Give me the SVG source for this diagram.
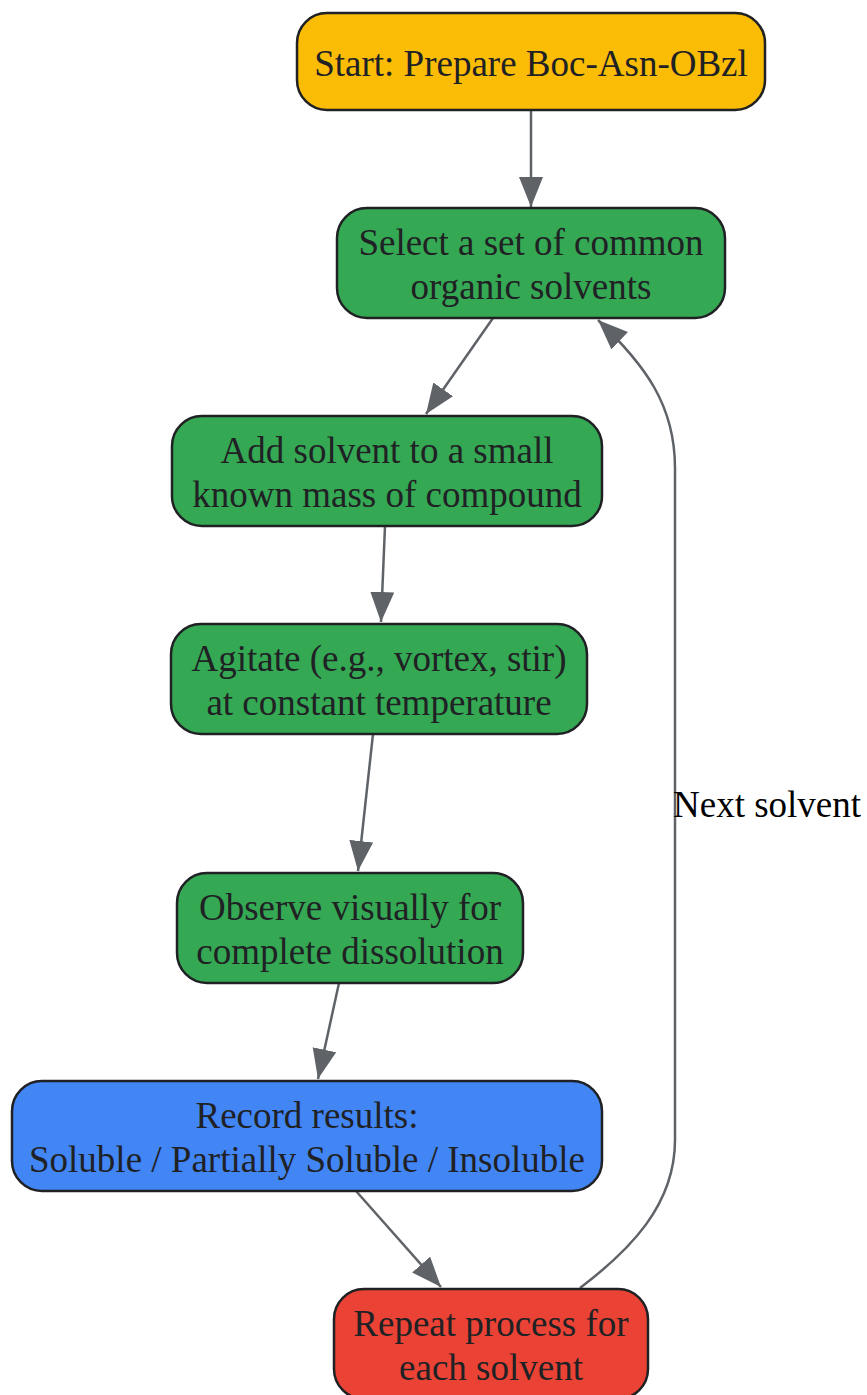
<svg xmlns="http://www.w3.org/2000/svg" width="867" height="1395" viewBox="0 0 867 1395">
<style>
.n{stroke:#202124;stroke-width:2.5}
.t{font-family:"Liberation Serif","Times New Roman",serif;font-size:37px;fill:#202124;text-anchor:middle}
.e{fill:none;stroke:#5f6368;stroke-width:2.5}
.l{font-family:"Liberation Serif","Times New Roman",serif;font-size:37px;fill:#000}
</style>
<defs>
<marker id="ah" markerUnits="userSpaceOnUse" markerWidth="31" markerHeight="25" refX="30" refY="12" orient="auto">
<path d="M0,0 L30,12 L0,24 z" fill="#5f6368"/>
</marker>
</defs>
<g id="edges">
<path class="e" d="M531,110 L531,207" marker-end="url(#ah)"/>
<path class="e" d="M493,318 L426,414" marker-end="url(#ah)"/>
<path class="e" d="M385,526 L381,622" marker-end="url(#ah)"/>
<path class="e" d="M373,734 L358,871" marker-end="url(#ah)"/>
<path class="e" d="M339,983 L318,1079" marker-end="url(#ah)"/>
<path class="e" d="M356,1191 L441,1287" marker-end="url(#ah)"/>
<path class="e" d="M580,1288 C630,1250 675,1205 675,1140 L675,468 C675,405 645,365 598,320" marker-end="url(#ah)"/>
<text class="l" x="673" y="817">Next solvent</text>
</g>
<g id="start">
<rect class="n" x="297" y="13" width="468" height="97" rx="30" fill="#FBBC05"/>
<text class="t" x="531" y="76">Start: Prepare Boc-Asn-OBzl</text>
</g>
<g id="select">
<rect class="n" x="337" y="208" width="388" height="110" rx="30" fill="#34A853"/>
<text class="t" x="531" y="255">Select a set of common</text>
<text class="t" x="531" y="299">organic solvents</text>
</g>
<g id="add">
<rect class="n" x="172" y="416" width="430" height="110" rx="30" fill="#34A853"/>
<text class="t" x="387" y="463">Add solvent to a small</text>
<text class="t" x="387" y="507">known mass of compound</text>
</g>
<g id="agitate">
<rect class="n" x="171" y="624" width="416" height="110" rx="30" fill="#34A853"/>
<text class="t" x="379" y="671">Agitate (e.g., vortex, stir)</text>
<text class="t" x="379" y="715">at constant temperature</text>
</g>
<g id="observe">
<rect class="n" x="177" y="873" width="346" height="110" rx="30" fill="#34A853"/>
<text class="t" x="350" y="920">Observe visually for</text>
<text class="t" x="350" y="964">complete dissolution</text>
</g>
<g id="record">
<rect class="n" x="12" y="1081" width="590" height="110" rx="30" fill="#4285F4"/>
<text class="t" x="307" y="1128">Record results:</text>
<text class="t" x="307" y="1172">Soluble / Partially Soluble / Insoluble</text>
</g>
<g id="repeat">
<rect class="n" x="334" y="1289" width="314" height="110" rx="30" fill="#EA4335"/>
<text class="t" x="491" y="1336">Repeat process for</text>
<text class="t" x="491" y="1380">each solvent</text>
</g>
</svg>
